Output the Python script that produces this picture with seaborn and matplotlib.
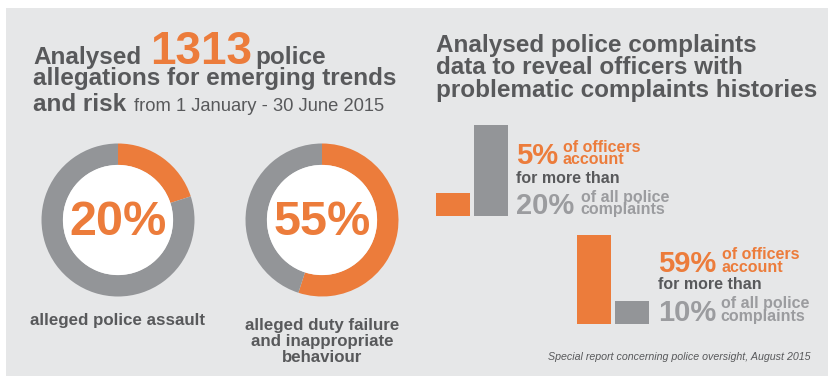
import matplotlib
matplotlib.use("Agg")
import matplotlib.pyplot as plt
import seaborn as sns
import pandas as pd
from matplotlib.patches import Rectangle, Circle

sns.set_theme(style="white")
plt.rcParams['font.family'] = ['Liberation Sans', 'DejaVu Sans']

# ---------------- data ----------------
allegation_total = 1313
title_period = "from 1 January - 30 June 2015"
donut_pcts = [20, 55]
donut_labels = ["alleged police assault",
                "alleged duty failure\nand inappropriate\nbehaviour"]
bar_categories = ["officers", "complaints"]
bar_heights_group1 = [5, 20]      # visual bar lengths
bar_heights_group2 = [19.6, 5.05]
officer_pcts = [5, 59]
complaint_pcts = [20, 10]
right_title = "Analysed police complaints\ndata to reveal officers with\nproblematic complaints histories"
source_note = "Special report concerning police oversight, August 2015"

# ---------------- style ----------------
W, H = 829, 376
ORANGE = "#EC7C3B"
GRAY = "#939598"
DARK = "#58595B"
LIGHT = "#9B9C9F"
BG = "#E6E7E8"

fig = plt.figure(figsize=(W / 100, H / 100), dpi=100)
fig.patch.set_facecolor("white")


def px_axes(x0, y0, x1, y1, z=1):
    ax = fig.add_axes([x0 / W, 1 - y1 / H, (x1 - x0) / W, (y1 - y0) / H])
    ax.patch.set_alpha(0)
    ax.set_zorder(z)
    return ax


# background panel
bg = px_axes(0, 0, W, H, z=0)
bg.set_xlim(0, W)
bg.set_ylim(H, 0)
bg.axis("off")
bg.add_patch(Rectangle((6, 8), W - 6, H - 8, facecolor=BG, edgecolor="none"))

# text overlay
main = px_axes(0, 0, W, H, z=10)
main.set_xlim(0, W)
main.set_ylim(H, 0)
main.axis("off")


def txt(x, y, s, size, color, weight="bold", style="normal", ha="left", ls=1.0):
    # y is the baseline of the LAST line
    main.text(x, y, s, fontsize=size, color=color, fontweight=weight,
              fontstyle=style, ha=ha, va="baseline", linespacing=ls,
              multialignment=ha)


# ---------------- left title ----------------
TS = 17.5
txt(33, 64, "Analysed", TS, DARK)
txt(150, 64, f"{allegation_total}", 33, ORANGE)
txt(255, 64, "police", TS, DARK)
txt(33, 85, "allegations for emerging trends", TS, DARK)
txt(33, 111, "and risk", TS, DARK)
txt(134, 111, title_period, 13.2, DARK, weight="normal")

# ---------------- donuts ----------------
donut_centers = [(118, 220), (322, 220)]
label_last_baseline = [325, 362]
R = 76.5
for pct, (cx, cy), lab, lb in zip(donut_pcts, donut_centers, donut_labels, label_last_baseline):
    ax = px_axes(cx - R, cy - R, cx + R, cy + R, z=2)
    ax.pie([pct, 100 - pct], colors=[ORANGE, GRAY], startangle=90,
           counterclock=False, radius=1,
           wedgeprops=dict(width=0.28, edgecolor="none"))
    ax.add_patch(Circle((0, 0), 0.72, facecolor="white", edgecolor="none"))
    ax.set_xlim(-1, 1)
    ax.set_ylim(-1, 1)
    ax.axis("off")
    txt(cx, 235, f"{pct}%", 35, ORANGE, ha="center")
    txt(cx, lb, lab, 12.2, DARK, ha="center", ls=1.1)

# ---------------- right title ----------------
txt(436, 96.7, right_title, TS, DARK, ls=0.96)

# ---------------- bars ----------------
SCALE = 91 / 20.0   # px per unit
bw = 34 / 38.0


def bar_group(x0, base, heights):
    axh = 100
    ax = px_axes(x0, base - axh, x0 + 72, base, z=3)
    df = pd.DataFrame({"cat": bar_categories, "val": heights})
    sns.barplot(data=df, x="cat", y="val", hue="cat",
                palette=[ORANGE, GRAY], saturation=1, width=bw,
                legend=False, ax=ax, linewidth=0)
    ax.set_xlim(-bw / 2, 1 + bw / 2)
    ax.set_ylim(0, axh / SCALE)
    ax.axis("off")


bar_group(436, 216, bar_heights_group1)
bar_group(577, 324, bar_heights_group2)

# ---------------- bar texts ----------------
BIG = 21
SM = 11.5
groups = [
    dict(x=516, xo=563, xc=580.7, y_big=164.3, y_for=182.7, y_c=214),
    dict(x=657.7, xo=722, xc=720.7, y_big=271.7, y_for=289.3, y_c=320.7),
]
for g, op, cp in zip(groups, officer_pcts, complaint_pcts):
    txt(g["x"], g["y_big"], f"{op}%", BIG, ORANGE)
    txt(g["xo"], g["y_big"], "of officers\naccount", SM, ORANGE, ls=0.78)
    txt(g["x"], g["y_for"], "for more than", SM, DARK)
    txt(g["x"], g["y_c"], f"{cp}%", BIG, LIGHT)
    txt(g["xc"], g["y_c"], "of all police\ncomplaints", SM, LIGHT, ls=0.78)

# ---------------- source ----------------
txt(811, 360, source_note, 7.7, DARK, weight="normal", style="italic", ha="right")

fig.savefig("out.png", dpi=100, facecolor="white")
